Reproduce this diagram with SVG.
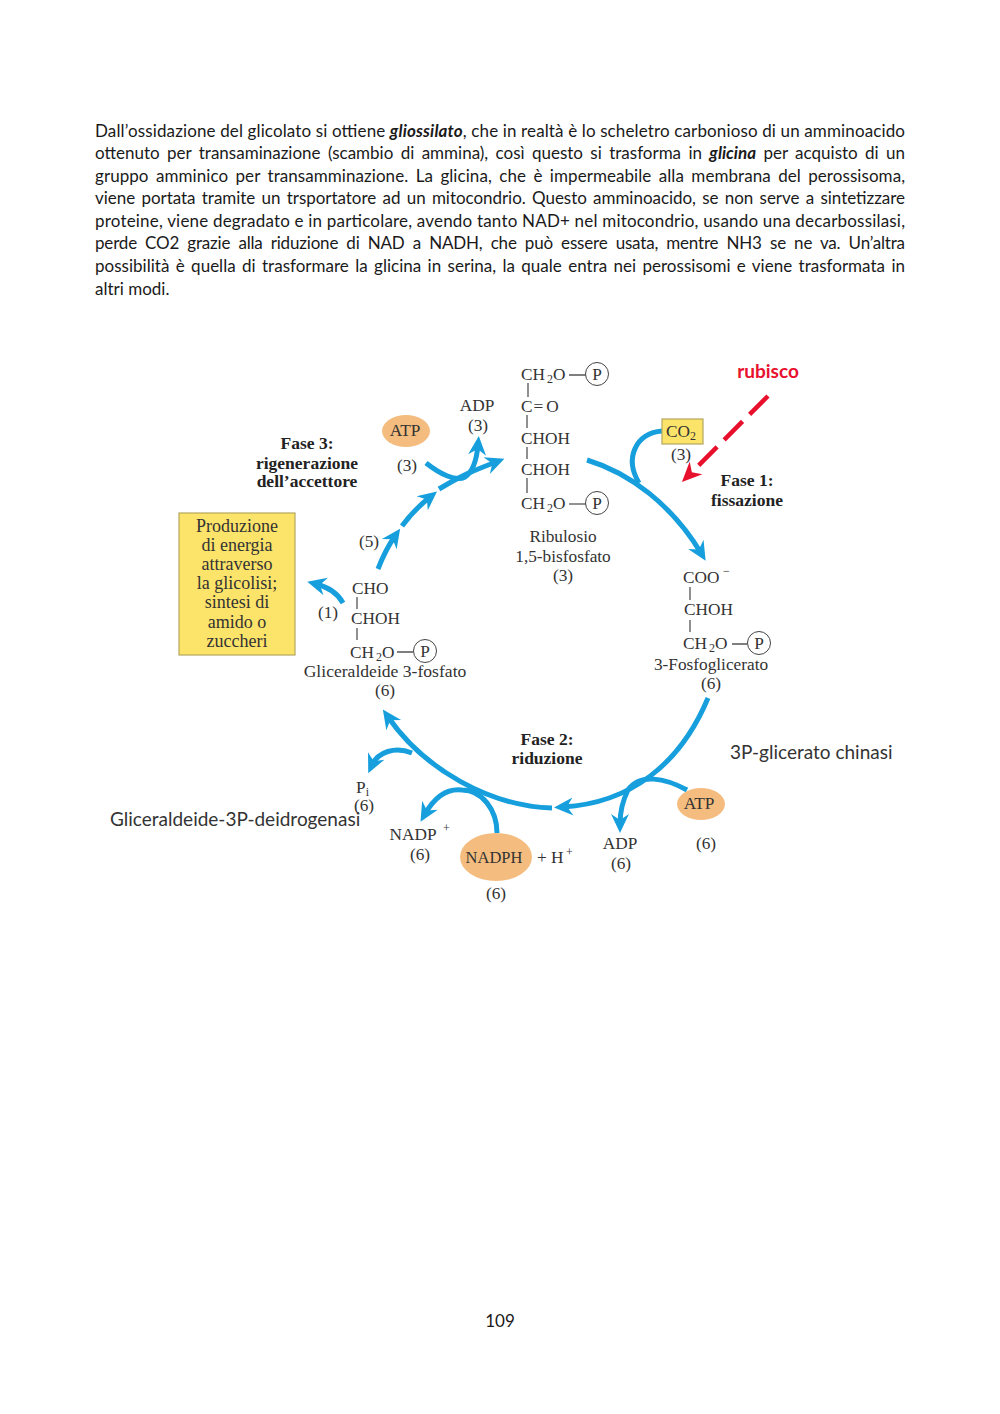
<svg xmlns="http://www.w3.org/2000/svg" width="1000" height="1414" viewBox="0 0 1000 1414">
<style>
.b{font:17px Lato,"Liberation Sans",sans-serif;fill:#1a1a1a}
.bi{font-weight:700;font-style:italic}
.s{font-family:"Liberation Serif",serif;font-size:17.3px;fill:#333}
.p{font-size:18px}
.f{font-family:"Liberation Serif",serif;font-size:17.5px;font-weight:700;fill:#222;text-anchor:middle}
.m{text-anchor:middle}
.a{fill:none;stroke:#169fdc;stroke-width:5}
.bond{stroke:#555;stroke-width:1.3;fill:none}
.pc{fill:#fff;stroke:#444;stroke-width:1}
.o{fill:#f4bd7f}
.y{fill:#fce36a;stroke:#b5a75e;stroke-width:1.2}
.c{font:19px Lato,"Liberation Sans",sans-serif;fill:#333}
.sub{font-size:12px}
</style>
<defs>
<marker id="h" viewBox="0 0 20 20" refX="10" refY="10" markerWidth="20" markerHeight="20" markerUnits="userSpaceOnUse" orient="auto"><path d="M19,10 L0,1 L6,10 L0,19 Z" fill="#169fdc"/></marker>
<marker id="r" viewBox="0 0 20 20" refX="10" refY="10" markerWidth="20" markerHeight="20" markerUnits="userSpaceOnUse" orient="auto"><path d="M20,10 L0,1 L6,10 L0,19 Z" fill="#e8112d"/></marker>
</defs>
<g id="testo">
<text class="b" x="95" y="137" textLength="810">Dall’ossidazione del glicolato si ottiene <tspan class="bi">gliossilato</tspan>, che in realtà è lo scheletro carbonioso di un amminoacido</text>
<text class="b" x="95" y="159" textLength="810" word-spacing="3">ottenuto per transaminazione (scambio di ammina), così questo si trasforma in <tspan class="bi">glicina</tspan> per acquisto di un</text>
<text class="b" x="95" y="182" textLength="810" word-spacing="3">gruppo amminico per transamminazione. La glicina, che è impermeabile alla membrana del perossisoma,</text>
<text class="b" x="95" y="204" textLength="810" word-spacing="2">viene portata tramite un trsportatore ad un mitocondrio. Questo amminoacido, se non serve a sintetizzare</text>
<text class="b" x="95" y="227" textLength="810">proteine, viene degradato e in particolare, avendo tanto NAD+ nel mitocondrio, usando una decarbossilasi,</text>
<text class="b" x="95" y="249" textLength="810" word-spacing="4">perde CO2 grazie alla riduzione di NAD a NADH, che può essere usata, mentre NH3 se ne va. Un’altra</text>
<text class="b" x="95" y="272" textLength="810" word-spacing="2">possibilità è quella di trasformare la glicina in serina, la quale entra nei perossisomi e viene trasformata in</text>
<text class="b" x="95" y="295">altri modi.</text>
<text class="b m" x="500" y="1327">109</text>
</g>
<g id="connettori">
<path class="a" d="M587,460 C630,473 672,505 701,553" marker-end="url(#h)"/>
<path class="a" d="M662,431 C636,433 624,458 639,483"/>
<path class="a" d="M708,698 C680,765 630,803 563,807" marker-end="url(#h)"/>
<path class="a" d="M687,790 C665,778 640,773 628,790 C622,802 620,812 620,824" marker-end="url(#h)"/>
<path class="a" d="M552,808 C490,806 425,770 388,717" marker-end="url(#h)"/>
<path class="a" d="M497,833 C497,810 482,790 462,790 C445,788 433,800 425,814" marker-end="url(#h)"/>
<path class="a" d="M412,753 C395,746 378,752 372,765" marker-end="url(#h)"/>
<path class="a" d="M343,603 C337,592 328,587 316,584" marker-end="url(#h)"/>
<path class="a" d="M378,569 C383,556 388,546 395,536" marker-end="url(#h)"/>
<path class="a" d="M402,526 C410,515 420,505 430,497" marker-end="url(#h)"/>
<path class="a" d="M439,489 C460,476 475,470 496,462" marker-end="url(#h)"/>
<path class="a" d="M426,463 C440,474 456,482 465,477 C474,471 477,456 478,445" marker-end="url(#h)"/>
<path d="M768,396 L696,468" fill="none" stroke="#e8112d" stroke-width="4.5" stroke-dasharray="26 10"/>
<path d="M691,473 L689,475" fill="none" stroke="#e8112d" stroke-width="4.5" marker-end="url(#r)"/>
</g>
<g id="rubp">
<text class="s" x="521" y="380">CH<tspan class="sub" dx="2" dy="3">2</tspan><tspan dy="-3">O</tspan></text>
<circle class="pc" cx="597" cy="374" r="11.5"/><text class="s m" x="597" y="380">P</text>
<path class="bond" d="M569,375H586M528,383V397M527,415V428M527,447V459M527,478V493"/>
<text class="s" x="521" y="412">C<tspan dx="1">=</tspan><tspan dx="3">O</tspan></text>
<text class="s" x="521" y="444">CHOH</text>
<text class="s" x="521" y="475">CHOH</text>
<text class="s" x="521" y="509">CH<tspan class="sub" dx="2" dy="3">2</tspan><tspan dy="-3">O</tspan></text>
<path class="bond" d="M569,504H586"/>
<circle class="pc" cx="597" cy="503" r="11.5"/><text class="s m" x="597" y="509">P</text>
<text class="s m" x="563" y="542">Ribulosio</text>
<text class="s m" x="563" y="562">1,5-bisfosfato</text>
<text class="s m" x="563" y="581">(3)</text>
</g>
<g id="adp3"><text class="s m" x="477" y="411">ADP</text><text class="s m" x="478" y="431">(3)</text></g>
<g id="atp3"><ellipse class="o" cx="406" cy="431" rx="24" ry="16"/><text class="s m" x="405" y="436">ATP</text><text class="s m" x="407" y="471">(3)</text></g>
<g id="fase3"><text class="f" x="307" y="449">Fase 3:</text><text class="f" x="307" y="469">rigenerazione</text><text class="f" x="307" y="487">dell’accettore</text></g>
<g id="co2"><rect class="y" x="662" y="419" width="41" height="25"/><text class="s" x="666" y="437">CO<tspan class="sub" dy="3">2</tspan></text><text class="s m" x="681" y="460">(3)</text></g>
<g id="rubisco"><text x="768" y="378" text-anchor="middle" style="font:700 19px Lato,'Liberation Sans',sans-serif;fill:#e8112d">rubisco</text></g>
<g id="fase1"><text class="f" x="747" y="486">Fase 1:</text><text class="f" x="747" y="506">fissazione</text></g>
<g id="pga">
<text class="s" x="683" y="583">COO</text><text class="s" x="723" y="575" style="font-size:12px">−</text>
<path class="bond" d="M690,587V600M690,620V632M732,644H747"/>
<text class="s" x="684" y="615">CHOH</text>
<text class="s" x="683" y="649">CH<tspan class="sub" dx="2" dy="3">2</tspan><tspan dy="-3">O</tspan></text>
<circle class="pc" cx="759" cy="643" r="11.5"/><text class="s m" x="759" y="649">P</text>
<text class="s m" x="711" y="670">3-Fosfoglicerato</text>
<text class="s m" x="711" y="689">(6)</text>
</g>
<g id="chinasi"><text class="c" x="730" y="759">3P-glicerato chinasi</text></g>
<g id="atp6"><ellipse class="o" cx="701" cy="804" rx="24" ry="16"/><text class="s m" x="699" y="809">ATP</text><text class="s m" x="706" y="849">(6)</text></g>
<g id="adp6"><text class="s m" x="620" y="849">ADP</text><text class="s m" x="621" y="869">(6)</text></g>
<g id="fase2"><text class="f" x="547" y="745">Fase 2:</text><text class="f" x="547" y="764">riduzione</text></g>
<g id="nadph"><ellipse class="o" cx="496" cy="857" rx="36" ry="24"/><text class="s m" x="494" y="863" style="font-size:16.5px">NADPH</text><text class="s" x="537" y="863">+ H</text><text class="s" x="566" y="856" style="font-size:12px">+</text><text class="s m" x="496" y="899">(6)</text></g>
<g id="nadp"><text class="s m" x="413" y="840">NADP</text><text class="s" x="443" y="832" style="font-size:12px">+</text><text class="s m" x="420" y="860">(6)</text></g>
<g id="pi"><text class="s" x="356" y="793">P<tspan class="sub" dy="3">i</tspan></text><text class="s m" x="364" y="811">(6)</text></g>
<g id="deidrogenasi"><text class="c" x="110" y="826">Gliceraldeide-3P-deidrogenasi</text></g>
<g id="g3p">
<text class="s" x="352" y="594">CHO</text>
<path class="bond" d="M357,597V609M357,628V640M397,652H413"/>
<text class="s" x="351" y="624">CHOH</text>
<text class="s" x="350" y="658">CH<tspan class="sub" dx="2" dy="3">2</tspan><tspan dy="-3">O</tspan></text>
<circle class="pc" cx="425" cy="651" r="11.5"/><text class="s m" x="425" y="657">P</text>
<text class="s m" x="385" y="677" style="font-size:17.6px">Gliceraldeide 3-fosfato</text>
<text class="s m" x="385" y="696">(6)</text>
<text class="s m" x="328" y="618">(1)</text>
<text class="s m" x="369" y="547">(5)</text>
</g>
<g id="produzione">
<rect class="y" x="179" y="513" width="116" height="142"/>
<text class="s p m" x="237" y="532">Produzione</text>
<text class="s p m" x="237" y="551">di energia</text>
<text class="s p m" x="237" y="570">attraverso</text>
<text class="s p m" x="237" y="589">la glicolisi;</text>
<text class="s p m" x="237" y="608">sintesi di</text>
<text class="s p m" x="237" y="628">amido o</text>
<text class="s p m" x="237" y="647">zuccheri</text>
</g>
</svg>
